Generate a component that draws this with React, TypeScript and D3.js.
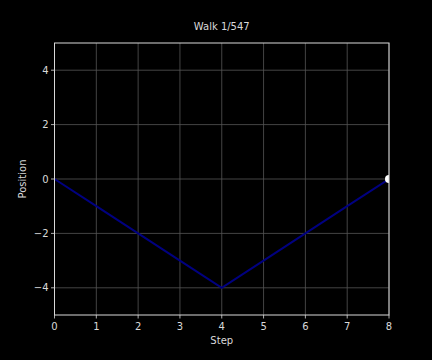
import React from "react";
import * as d3 from "d3";

const steps = [0, 1, 2, 3, 4, 5, 6, 7, 8];
const positions = [0, -1, -2, -3, -4, -3, -2, -1, 0];
const xTicks = [0, 1, 2, 3, 4, 5, 6, 7, 8];
const yTicks = [-4, -2, 0, 2, 4];
const title = "Walk 1/547";

export default function App() {
  const W = 432, H = 360;
  const L = 54.5, R = 389, T = 43, B = 315;
  const x = d3.scaleLinear().domain([0, 8]).range([L, R]);
  const y = d3.scaleLinear().domain([-5, 5]).range([B, T]);
  const line = d3.line<number>().x((_, i) => x(steps[i])).y((d) => y(d));
  const font = "DejaVu Sans, sans-serif";
  const txt = "#d9d9d9";
  const fmt = (v: number) => (v < 0 ? "\u2212" + Math.abs(v) : String(v));
  const lastI = steps.length - 1;
  return (
    <svg width={W} height={H} style={{ position: "absolute", left: 0, top: 0, background: "#000" }}>
      <rect x={0} y={0} width={W} height={H} fill="#000" />
      <defs>
        <clipPath id="plotclip">
          <rect x={L} y={T} width={R - L} height={B - T} />
        </clipPath>
      </defs>
      {xTicks.map((t) => (
        <line key={"gx" + t} x1={x(t)} x2={x(t)} y1={T} y2={B} stroke="#555" strokeWidth={0.8} />
      ))}
      {yTicks.map((t) => (
        <line key={"gy" + t} x1={L} x2={R} y1={y(t)} y2={y(t)} stroke="#555" strokeWidth={0.8} />
      ))}
      <g clipPath="url(#plotclip)">
        <path d={line(positions) || ""} fill="none" stroke="#000080" strokeWidth={2} />
        <circle cx={x(steps[lastI])} cy={y(positions[lastI])} r={4} fill="#fff" />
      </g>
      <rect x={L} y={T} width={R - L} height={B - T} fill="none" stroke="#d9d9d9" strokeWidth={1} />
      {xTicks.map((t) => (
        <g key={"tx" + t}>
          <line x1={x(t)} x2={x(t)} y1={B} y2={B + 3.5} stroke="#d9d9d9" strokeWidth={0.8} />
          <text x={x(t)} y={B + 15} textAnchor="middle" fontFamily={font} fontSize={10} fill={txt}>
            {fmt(t)}
          </text>
        </g>
      ))}
      {yTicks.map((t) => (
        <g key={"ty" + t}>
          <line x1={L - 3.5} x2={L} y1={y(t)} y2={y(t)} stroke="#d9d9d9" strokeWidth={0.8} />
          <text x={L - 6} y={y(t) + 3.5} textAnchor="end" fontFamily={font} fontSize={10} fill={txt}>
            {fmt(t)}
          </text>
        </g>
      ))}
      <text x={(L + R) / 2} y={344} textAnchor="middle" fontFamily={font} fontSize={10} fill={txt}>
        Step
      </text>
      <text
        transform={`translate(26,${(T + B) / 2}) rotate(-90)`}
        textAnchor="middle"
        fontFamily={font}
        fontSize={10}
        fill={txt}
      >
        Position
      </text>
      <text x={(L + R) / 2} y={30} textAnchor="middle" fontFamily={font} fontSize={10} fill={txt}>
        {title}
      </text>
    </svg>
  );
}
